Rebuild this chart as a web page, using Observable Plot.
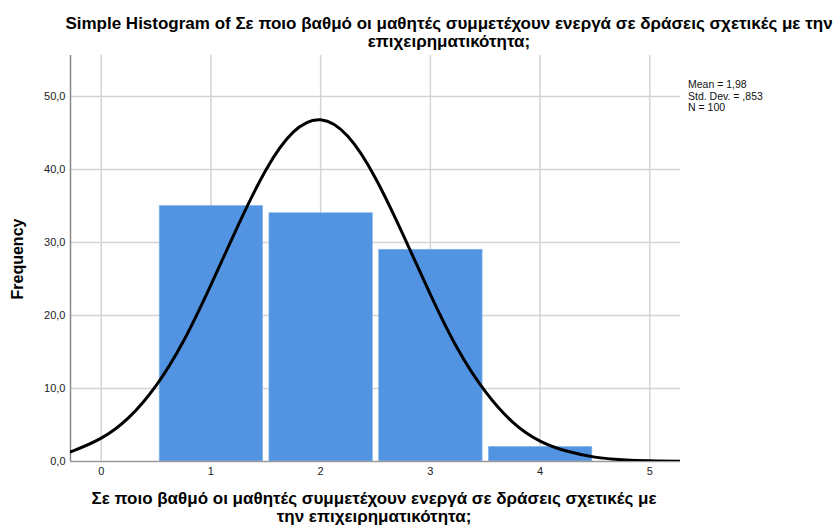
<!DOCTYPE html>
<html>
<head>
<meta charset="utf-8">
<script src="https://cdn.jsdelivr.net/npm/d3@7"></script>
<script src="https://cdn.jsdelivr.net/npm/@observablehq/plot@0.6"></script>
<style>
  body { margin: 0; background: #fff; }
  #wrap { position: relative; width: 838px; height: 532px; font-family: "Liberation Sans", Arial, sans-serif; color: #000; overflow: hidden; }
  .t { position: absolute; font-weight: bold; font-size: 17px; line-height: 18px; text-align: center; white-space: nowrap; }
  #legend { position: absolute; left: 688px; top: 79px; font-size: 10.5px; line-height: 11.5px; color: #111; }
</style>
</head>
<body>
<div id="wrap">
  <div id="plot"></div>
  <div class="t" id="title" style="left:49px; width:800px; top:15px;">Simple Histogram of Σε ποιο βαθμό οι μαθητές συμμετέχουν ενεργά σε δράσεις σχετικές με την<br>επιχειρηματικότητα;</div>
  <div class="t" id="xlabel" style="left:74px; width:600px; top:490px;">Σε ποιο βαθμό οι μαθητές συμμετέχουν ενεργά σε δράσεις σχετικές με<br>την επιχειρηματικότητα;</div>
  <div class="t" id="ylabel" style="left:-32px; width:100px; top:250px; font-size:16px; transform: rotate(-90deg);">Frequency</div>
  <div id="legend"></div>
</div>
<script>
// Histogram bins (category value) and frequencies
const categories = [1, 2, 3, 4];
const frequencies = [35, 34, 29, 2];

// Fitted normal curve
const curveX = [-0.3, -0.25, 0, 0.25, 0.5, 0.75, 1, 1.25, 1.5, 1.75, 2, 2.25, 2.5, 2.75, 3, 3.25, 3.5, 3.75, 4, 4.25, 4.5, 4.75, 5, 5.25, 5.3];
const curveY = [1.3, 1.5, 3.2, 6.0, 10.4, 16.5, 24.2, 32.4, 39.9, 45.1, 46.8, 44.5, 38.8, 31.1, 22.9, 15.4, 9.6, 5.4, 2.8, 1.4, 0.6, 0.24, 0.09, 0.03, 0.02];

// Axis ticks
const xTicks = [0, 1, 2, 3, 4, 5];
const yTicks = [0, 10, 20, 30, 40, 50];
const yGrid = [10, 20, 30, 40, 50];

// Legend texts
const legendLines = ["Mean = 1,98", "Std. Dev. = ,853", "N = 100"];

const bars = categories.map((c, i) => ({x1: c - 0.5, x2: c + 0.5, y: frequencies[i]}));
const curve = curveX.map((x, i) => ({x, y: curveY[i]}));

const fmtY = d => d3.format(".1f")(d).replace(".", ",");

const chart = Plot.plot({
  width: 838,
  height: 532,
  marginLeft: 70,
  marginRight: 158,
  marginTop: 55,
  marginBottom: 71,
  style: {fontFamily: "Liberation Sans, Arial, sans-serif", fontSize: "11px", background: "white", color: "#000"},
  x: {domain: [-0.28, 5.28], ticks: xTicks, tickFormat: d => String(d), tickSize: 0, tickPadding: 6, label: null},
  y: {domain: [0, 55.6], ticks: yTicks, tickFormat: fmtY, tickSize: 0, tickPadding: 5, label: null},
  marks: [
    Plot.gridX(xTicks, {stroke: "#d4d4d4", strokeOpacity: 1, strokeWidth: 1.5}),
    Plot.gridY(yGrid, {stroke: "#d4d4d4", strokeOpacity: 1, strokeWidth: 1.5}),
    Plot.rectY(bars, {x1: "x1", x2: "x2", y: "y", fill: "#5294e2", stroke: "#8ab6ec", strokeWidth: 0.6, insetLeft: 3.6, insetRight: 2.6}),
    Plot.axisX({ticks: xTicks, tickFormat: d => String(d), tickSize: 0, tickPadding: 6, fill: "#222"}),
    Plot.axisY({ticks: yTicks, tickFormat: fmtY, tickSize: 0, tickPadding: 5, fill: "#222"}),
    Plot.ruleY([0], {stroke: "#9a9a9a", strokeWidth: 1.5}),
    Plot.ruleX([-0.28], {stroke: "#888", strokeWidth: 1.5}),
    Plot.line(curve, {x: "x", y: "y", curve: "natural", stroke: "#000", strokeWidth: 3, clip: true})
  ]
});
document.getElementById("plot").appendChild(chart);
document.getElementById("legend").innerHTML = legendLines.join("<br>");
</script>
</body>
</html>
